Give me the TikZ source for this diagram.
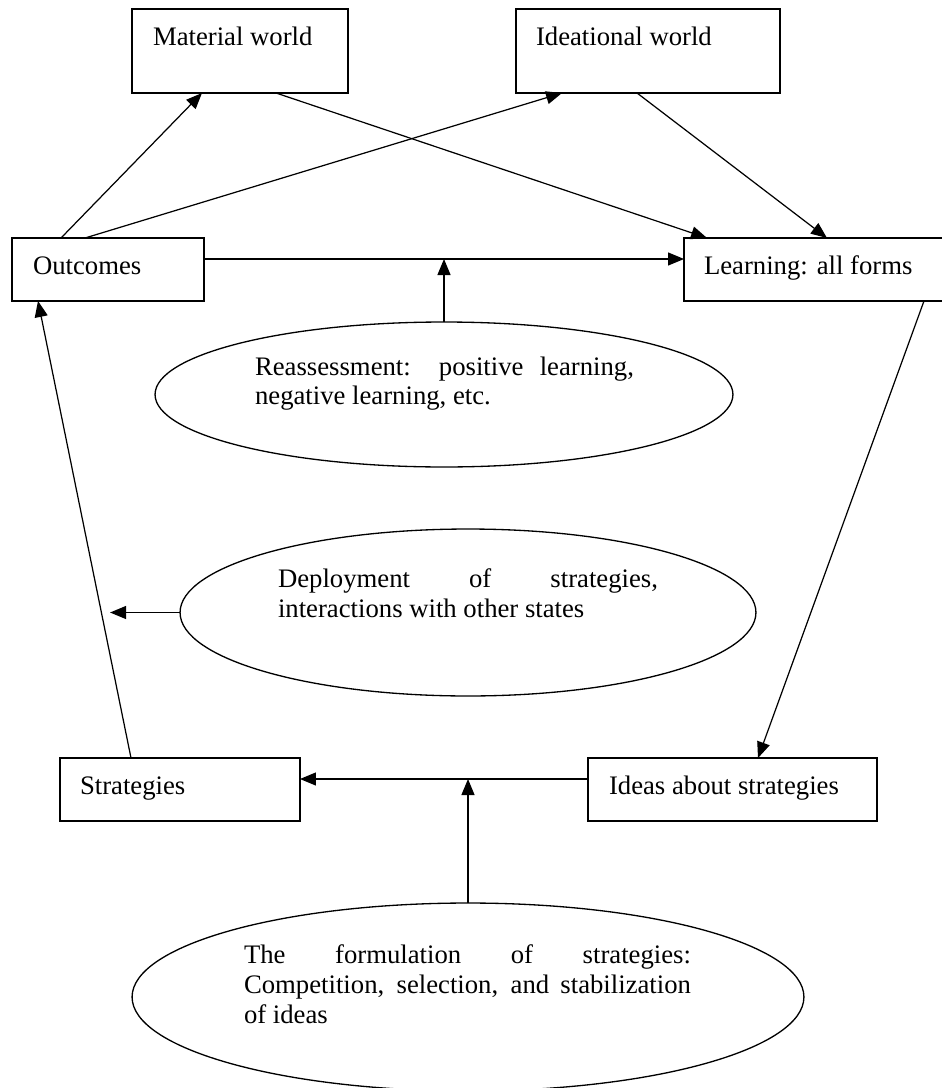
\documentclass[tikz,border=0pt]{standalone}
\usepackage{fontspec}
\setmainfont{Liberation Serif}
\usetikzlibrary{arrows.meta,shapes.geometric}

\begin{document}
\begin{tikzpicture}[x=0.02cm, y=-0.02cm,
    >={Triangle[length=0.32cm, width=0.26cm]},
    every node/.style={inner sep=0pt, outer sep=0pt},
    box/.style={draw, line width=0.9pt, rectangle},
    ell/.style={draw, line width=0.75pt, ellipse},
    lbl/.style={anchor=base west, font=\fontsize{15.2pt}{17.07pt}\selectfont},
    para/.style={lbl, text width=#1, align=justify},
    conn/.style={->, line width=0.7pt}]
    \useasboundingbox (0, 0) rectangle (942, 1088);

    % boxes
    \node[box, minimum width=4.32cm, minimum height=1.68cm] (mat) at (240, 51) {};
    \node[box, minimum width=5.28cm, minimum height=1.68cm] (ideal) at (648, 51) {};
    \node[box, minimum width=3.84cm, minimum height=1.26cm] (outc) at (108, 269.5) {};
    \node[box, minimum width=5.36cm, minimum height=1.26cm] (learn) at (818, 269.5) {};
    \node[box, minimum width=4.80cm, minimum height=1.26cm] (strat) at (180, 789.5) {};
    \node[box, minimum width=5.78cm, minimum height=1.26cm] (ideas) at (732.5, 789.5) {};

    \node[lbl] at ([xshift=0.42cm, yshift=-0.72cm]mat.north west) {Material world};
    \node[lbl] at ([xshift=0.40cm, yshift=-0.72cm]ideal.north west) {Ideational world};
    \node[lbl] at ([xshift=0.42cm, yshift=-0.72cm]outc.north west) {Outcomes};
    \node[lbl] at ([xshift=0.40cm, yshift=-0.72cm]learn.north west) {Learning: all forms};
    \node[lbl] at ([xshift=0.40cm, yshift=-0.72cm]strat.north west) {Strategies};
    \node[lbl] at ([xshift=0.42cm, yshift=-0.72cm]ideas.north west) {Ideas about strategies};

    % ellipses
    \node[ell, minimum width=11.56cm, minimum height=2.90cm] (reass) at (444, 394.5) {};
    \node[ell, minimum width=11.52cm, minimum height=3.34cm] (deploy) at (468, 612.5) {};
    \node[ell, minimum width=13.44cm, minimum height=3.76cm] (form) at (468, 997) {};

    \node[para=7.58cm] at ([xshift=-3.78cm, yshift=0.39cm]reass.center)
        {Reassessment: positive learning,\linebreak negative learning, etc.};
    \node[para=7.60cm] at ([xshift=-3.80cm, yshift=0.51cm]deploy.center)
        {Deployment of strategies,\linebreak interactions with other states};
    \node[para=8.94cm] at ([xshift=-4.48cm, yshift=0.68cm]form.center)
        {The formulation of strategies:\linebreak Competition, selection, and stabilization\linebreak of ideas};

    % connectors
    \draw[conn] ([xshift=0.98cm]outc.north west) -- ([xshift=1.40cm]mat.south west);
    \draw[conn] ([xshift=1.46cm]outc.north west) -- ([xshift=0.92cm]ideal.south west);
    \draw[conn] ([xshift=2.88cm]mat.south west) -- ([xshift=0.46cm]learn.north west);
    \draw[conn] ([xshift=2.42cm]ideal.south west) -- ([xshift=2.86cm]learn.north west);

    \coordinate (oline) at ([yshift=0.21cm]outc.east);
    \coordinate (rjoin) at (reass.north |- oline);
    \draw[conn] (oline) -- ([yshift=0.21cm]learn.west);
    \draw[conn] (reass.north) -- (rjoin);

    \draw[conn] ([xshift=4.80cm]learn.south west) -- ([xshift=3.40cm]ideas.north west);
    \draw[conn] ([xshift=1.42cm]strat.north west) -- ([xshift=0.52cm]outc.south west);

    \coordinate (dtip) at ([xshift=-1.4cm]deploy.west);
    \draw[conn] (deploy.west) -- (dtip);

    \coordinate (sline) at ([yshift=0.21cm]ideas.west);
    \coordinate (fjoin) at (form.north |- sline);
    \draw[conn] (sline) -- ([yshift=0.21cm]strat.east);
    \draw[conn] (form.north) -- (fjoin);
\end{tikzpicture}
\end{document}
